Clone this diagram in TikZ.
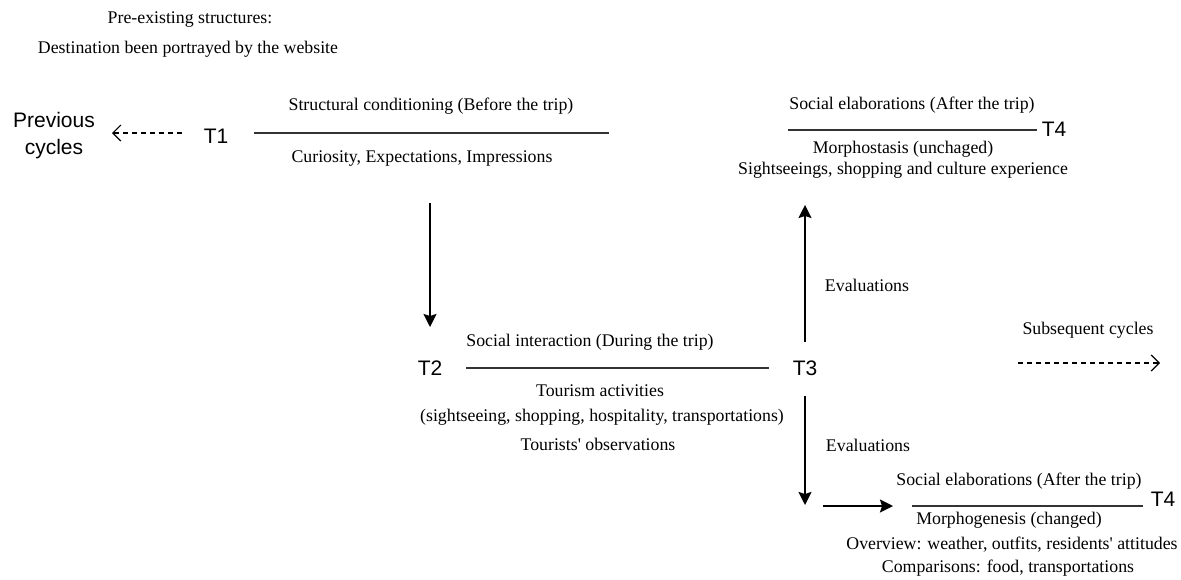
\documentclass[tikz,border=0pt]{standalone}
\usepackage{fontspec}
\setmainfont{Liberation Serif}
\newfontfamily\arialfont{Liberation Sans}
\usepackage{tikz}
\usetikzlibrary{arrows.meta}
\tikzstyle{note} = [inner sep=0pt, align=center, font=\fontsize{8.9}{13}\selectfont]
\tikzstyle{tname} = [inner sep=0pt, align=center, font=\arialfont\fontsize{10.5}{13.5}\selectfont]
\tikzstyle{stage} = [draw=black!80, line width=1.1pt]
\tikzstyle{flow} = [draw=black, line width=0.9pt, -{Stealth[length=6.5pt, width=6.5pt, inset=1pt]}]
\tikzstyle{cycle} = [draw=black, line width=0.6pt, dash pattern=on 2.5pt off 2pt, -{Straight Barb[length=4pt, width=8pt]}]

\begin{document}
\begin{tikzpicture}[x=0.5pt, y=-0.5pt]
\useasboundingbox (0, 0) rectangle (1181, 579);

% Pre-existing structures
\node[note] (pre) at (190, 20) {Pre-existing structures:};
\node[note] (dest) at (188, 49) {Destination been portrayed by the website};
% T1, structural conditioning
\node[tname] (prev) at (54, 136) {Previous\\cycles};
\node[tname] (t1) at (216, 136) {T1};
\node[note] (sc) at (431, 106) {Structural conditioning (Before the trip)};
\node[note] (cur) at (422, 159) {Curiosity, Expectations, Impressions};
% T2 - T3, social interaction
\node[tname] (t2) at (430, 368) {T2};
\node[tname] (t3) at (805, 368) {T3};
\node[note] (si) at (590, 342) {Social interaction (During the trip)};
\node[note] (ta) at (600, 391) {Tourism activities};
\node[note] (tsh) at (602, 417) {(sightseeing, shopping, hospitality, transportations)};
\node[note] (tobs) at (598, 444) {Tourists\textquotesingle{} observations};
\node[note] (ev1) at (867, 285) {Evaluations};
\node[note] (ev2) at (868, 445) {Evaluations};
\node[note] (sub) at (1088, 330) {Subsequent cycles};
% T4, morphostasis
\node[tname] (t4a) at (1054, 129) {T4};
\node[note] (se1) at (912, 105) {Social elaborations (After the trip)};
\node[note] (mst) at (903, 149) {Morphostasis (unchaged)};
\node[note] (sgt) at (903, 170) {Sightseeings, shopping and culture experience};
% T4, morphogenesis
\node[tname] (t4b) at (1163, 499) {T4};
\node[note] (se2) at (1019, 481) {Social elaborations (After the trip)};
\node[note] (mgn) at (1009, 520) {Morphogenesis (changed)};
\node[note] (ovw) at (1012, 545) {Overview: weather, outfits, residents\textquotesingle{} attitudes};
\node[note] (cmp) at (1008, 568) {Comparisons: food, transportations};

% line ends
\coordinate (c1a) at (182, 133);
\coordinate (c1b) at (112, 133);
\coordinate (l1a) at (254, 133);
\coordinate (l1b) at (609, 133);
\coordinate (d1a) at (430, 203);
\coordinate (d1b) at (430, 327);
\coordinate (l2a) at (466, 368);
\coordinate (l2b) at (769, 368);
\coordinate (u3a) at (805, 342);
\coordinate (u3b) at (805, 205);
\coordinate (d3a) at (805, 396);
\coordinate (d3b) at (805, 505);
\coordinate (r3a) at (823, 506);
\coordinate (r3b) at (893, 506);
\coordinate (l4a) at (788, 130);
\coordinate (l4b) at (1037, 130);
\coordinate (c4a) at (1018, 363);
\coordinate (c4b) at (1160, 363);
\coordinate (l5a) at (912, 506);
\coordinate (l5b) at (1143, 506);

% connectors
\draw[cycle] (c1a) -- (c1b);
\draw[stage] (l1a) -- (l1b);
\draw[flow] (d1a) -- (d1b);
\draw[stage] (l2a) -- (l2b);
\draw[flow] (u3a) -- (u3b);
\draw[flow] (d3a) -- (d3b);
\draw[flow] (r3a) -- (r3b);
\draw[stage] (l4a) -- (l4b);
\draw[cycle] (c4a) -- (c4b);
\draw[stage] (l5a) -- (l5b);
\end{tikzpicture}
\end{document}
